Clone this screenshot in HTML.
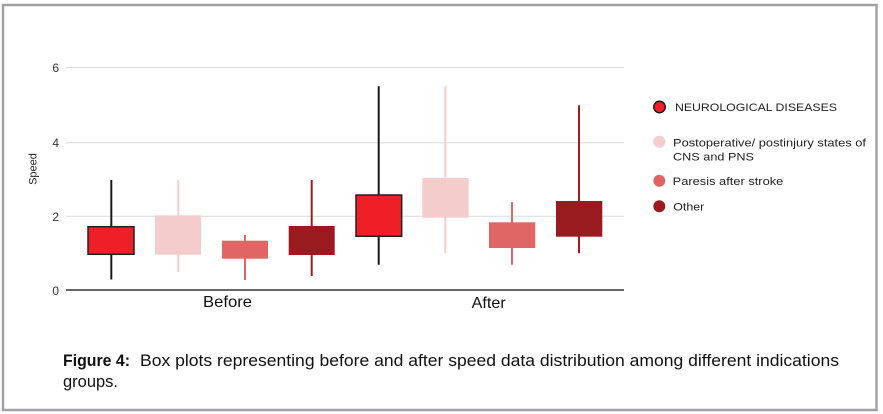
<!DOCTYPE html>
<html>
<head>
<meta charset="utf-8">
<style>
html,body{margin:0;padding:0;background:#fff;}
svg{display:block;}
text{font-family:"Liberation Sans",Arial,sans-serif;}
</style>
</head>
<body>
<svg width="883" height="414" viewBox="0 0 883 414" xmlns="http://www.w3.org/2000/svg">
  <rect x="0" y="0" width="883" height="414" fill="#fff"/>
  <!-- frame -->
  <rect x="3" y="5" width="873.5" height="405" fill="none" stroke="#a2a2a6" stroke-width="2.5"/>

  <!-- gridlines -->
  <line x1="66" y1="67.5" x2="624" y2="67.5" stroke="#dadada" stroke-width="1"/>
  <line x1="66" y1="142.7" x2="624" y2="142.7" stroke="#dadada" stroke-width="1"/>
  <line x1="66" y1="216.3" x2="624" y2="216.3" stroke="#dadada" stroke-width="1"/>
  <line x1="66" y1="290" x2="624" y2="290" stroke="#333" stroke-width="1.5"/>

  <!-- y tick labels -->
  <text x="59" y="72" font-size="12" fill="#333" text-anchor="end">6</text>
  <text x="59" y="147" font-size="12" fill="#333" text-anchor="end">4</text>
  <text x="59" y="221" font-size="12" fill="#333" text-anchor="end">2</text>
  <text x="59" y="295" font-size="12" fill="#333" text-anchor="end">0</text>
  <text transform="translate(36.5,169) rotate(-90)" font-size="11" fill="#222" text-anchor="middle">Speed</text>

  <!-- Before group -->
  <line x1="111.3" y1="180" x2="111.3" y2="279.5" stroke="#1a1a1a" stroke-width="2"/>
  <rect x="88" y="226.7" width="46" height="27.6" fill="#ee1f27" stroke="#222" stroke-width="1.5"/>

  <line x1="178.3" y1="180" x2="178.3" y2="272" stroke="#f4cccc" stroke-width="2"/>
  <rect x="155" y="215.3" width="46" height="39.4" fill="#f4cccc"/>

  <line x1="245" y1="235" x2="245" y2="280" stroke="#e06666" stroke-width="2"/>
  <rect x="222" y="240.7" width="46" height="18" fill="#e06666"/>

  <line x1="311.7" y1="180" x2="311.7" y2="276" stroke="#a11c22" stroke-width="2"/>
  <rect x="288.7" y="226" width="46" height="29" fill="#991b1f"/>

  <!-- After group -->
  <line x1="378.7" y1="86.3" x2="378.7" y2="264.7" stroke="#1a1a1a" stroke-width="2"/>
  <rect x="356" y="195" width="45.7" height="41.3" fill="#ee1f27" stroke="#222" stroke-width="1.5"/>

  <line x1="445.3" y1="86.3" x2="445.3" y2="253.3" stroke="#f4cccc" stroke-width="2"/>
  <rect x="422.3" y="178" width="46.4" height="39.7" fill="#f4cccc"/>

  <line x1="512" y1="202" x2="512" y2="264.7" stroke="#e06666" stroke-width="2"/>
  <rect x="489" y="222.3" width="46.3" height="25.7" fill="#e06666"/>

  <line x1="579" y1="105.3" x2="579" y2="253.3" stroke="#a11c22" stroke-width="2"/>
  <rect x="556" y="201" width="46.3" height="35.7" fill="#991b1f"/>

  <!-- category labels -->
  <text x="203" y="307" font-size="16" fill="#111" textLength="49" lengthAdjust="spacingAndGlyphs">Before</text>
  <text x="471.7" y="308" font-size="16" fill="#111" textLength="34" lengthAdjust="spacingAndGlyphs">After</text>

  <!-- legend -->
  <circle cx="659.5" cy="107" r="5.8" fill="#ee1f27" stroke="#111" stroke-width="1.3"/>
  <text x="675" y="111" font-size="11" fill="#222" textLength="162" lengthAdjust="spacingAndGlyphs">NEUROLOGICAL DISEASES</text>

  <circle cx="659.3" cy="141.7" r="6" fill="#f4cccc"/>
  <text x="673" y="146.5" font-size="11" fill="#222" textLength="193" lengthAdjust="spacingAndGlyphs">Postoperative/ postinjury states of</text>
  <text x="673" y="160.3" font-size="11" fill="#222" textLength="81" lengthAdjust="spacingAndGlyphs">CNS and PNS</text>

  <circle cx="659.3" cy="180.7" r="6" fill="#e06666"/>
  <text x="672.7" y="185" font-size="11" fill="#222" textLength="110.6" lengthAdjust="spacingAndGlyphs">Paresis after stroke</text>

  <circle cx="659.3" cy="206.3" r="6" fill="#991b1f"/>
  <text x="673.3" y="210.3" font-size="11" fill="#222" textLength="31" lengthAdjust="spacingAndGlyphs">Other</text>

  <!-- caption -->
  <text x="63" y="366" font-size="16.5" font-weight="bold" fill="#111" textLength="67" lengthAdjust="spacingAndGlyphs">Figure 4:</text>
  <text x="140" y="366" font-size="16.5" fill="#111" textLength="699" lengthAdjust="spacingAndGlyphs">Box plots representing before and after speed data distribution among different indications</text>
  <text x="63" y="387" font-size="16.5" fill="#111" textLength="55" lengthAdjust="spacingAndGlyphs">groups.</text>
</svg>
</body>
</html>
